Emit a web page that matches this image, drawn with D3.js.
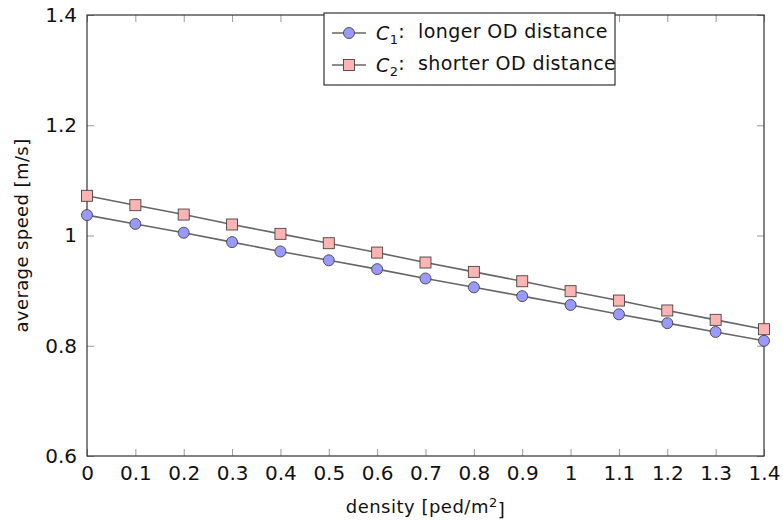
<!DOCTYPE html>
<html>
<head>
<meta charset="utf-8">
<title>average speed vs density</title>
<script src="https://cdn.jsdelivr.net/npm/d3@7"></script>
<style>
	body { margin: 0; background: #fff; }
	text { font-family: "DejaVu Sans", sans-serif; fill: #111; }
</style>
</head>
<body>
<svg id="chart" width="783" height="521"></svg>
<script>

	var density = [0, 0.1, 0.2, 0.3, 0.4, 0.5, 0.6, 0.7, 0.8, 0.9, 1, 1.1, 1.2, 1.3, 1.4];
	var speedC1 = [1.037, 1.021, 1.005, 0.988, 0.971, 0.955, 0.939, 0.922, 0.906, 0.890, 0.874, 0.857, 0.841, 0.825, 0.809];
	var speedC2 = [1.072, 1.055, 1.038, 1.020, 1.003, 0.986, 0.969, 0.951, 0.934, 0.917, 0.899, 0.882, 0.864, 0.847, 0.830];
	var xTicks = [0, 0.1, 0.2, 0.3, 0.4, 0.5, 0.6, 0.7, 0.8, 0.9, 1, 1.1, 1.2, 1.3, 1.4];
	var yTicks = [0.6, 0.8, 1, 1.2, 1.4];

	var svg = d3.select("#chart"),
	    margin = {top: 15, right: 19, bottom: 65, left: 87},
	    width = +svg.attr("width") - margin.left - margin.right,
	    height = +svg.attr("height") - margin.top - margin.bottom,
	    g = svg.append("g").attr("transform", "translate(" + margin.left + "," + margin.top + ")");

	var x = d3.scaleLinear().domain([0, 1.4]).range([0, width]);
	var y = d3.scaleLinear().domain([0.6, 1.4]).range([height, 0]);

	var fmt = function(d) { return d3.format("")(+d.toFixed(1)); };

	// inner ticks on all four sides
	function ticks(axis, tr) {
		var a = g.append("g").attr("transform", tr).call(axis);
		a.select(".domain").remove();
		a.selectAll("line").attr("stroke", "#999").attr("stroke-width", 1);
		return a;
	}
	var bx = ticks(d3.axisBottom(x).tickValues(xTicks).tickSize(-7).tickPadding(10).tickFormat(fmt), "translate(0," + height + ")");
	ticks(d3.axisTop(x).tickValues(xTicks).tickSize(-7).tickFormat(""), "translate(0,0)");
	var ly = ticks(d3.axisLeft(y).tickValues(yTicks).tickSize(-7).tickPadding(10).tickFormat(fmt), "translate(0,0)");
	ticks(d3.axisRight(y).tickValues(yTicks).tickSize(-7).tickFormat(""), "translate(" + width + ",0)");

	bx.selectAll("text").style("font-size", "20px").attr("dy", "0.71em");
	ly.selectAll("text").style("font-size", "20px");

	g.append("rect")
		.attr("width", width).attr("height", height)
		.attr("fill", "none").attr("stroke", "#333").attr("stroke-width", 1.2);

	var line = d3.line()
		.x(function(d, i) { return x(density[i]); })
		.y(function(d) { return y(d); });

	var series = [
		{vals: speedC1, shape: "circle", fill: "#9999ff", sub: "1", label: ":  longer OD distance"},
		{vals: speedC2, shape: "square", fill: "#ffb3b3", sub: "2", label: ":  shorter OD distance"}
	];

	function marker(sel, shape, fill) {
		if (shape == "circle") {
			sel.append("circle").attr("r", 5.5);
		} else {
			sel.append("rect").attr("x", -5.5).attr("y", -5.5).attr("width", 11).attr("height", 11);
		}
		sel.selectAll("circle,rect").attr("fill", fill).attr("stroke", "#444").attr("stroke-width", 0.9);
	}

	series.forEach(function(s) {
		g.append("path")
			.datum(s.vals)
			.attr("fill", "none")
			.attr("stroke", "#666")
			.attr("stroke-width", 1.6)
			.attr("d", line);
		g.selectAll(null)
			.data(s.vals)
			.enter().append("g")
			.attr("transform", function(d, i) { return "translate(" + x(density[i]) + "," + y(d) + ")"; })
			.each(function() { marker(d3.select(this), s.shape, s.fill); });
	});

	// legend
	var lg = svg.append("g").attr("transform", "translate(324,13)");
	lg.append("rect").attr("width", 291).attr("height", 72)
		.attr("fill", "#fff").attr("stroke", "#333").attr("stroke-width", 1.2);
	series.forEach(function(s, i) {
		var row = lg.append("g").attr("transform", "translate(0," + (20 + i * 32) + ")");
		row.append("line").attr("x1", 8).attr("x2", 42).attr("stroke", "#666").attr("stroke-width", 1.6);
		var m = row.append("g").attr("transform", "translate(25,0)");
		marker(m, s.shape, s.fill);
		var t = row.append("text").attr("x", 52).attr("dy", "0.35em")
			.style("font-size", "19px").style("letter-spacing", "0.4px").style("white-space", "pre");
		t.append("tspan").attr("font-style", "italic").text("C");
		t.append("tspan").attr("dy", "0.3em").style("font-size", "13px").text(s.sub);
		t.append("tspan").attr("dy", "-0.3em").text(s.label);
	});

	// axis titles
	var xt = svg.append("text")
		.attr("x", margin.left + width / 2).attr("y", 513)
		.attr("text-anchor", "middle").style("font-size", "18px").style("letter-spacing", "0.5px");
	xt.append("tspan").text("density [ped/m");
	xt.append("tspan").attr("dy", "-0.5em").style("font-size", "13px").text("2");
	xt.append("tspan").attr("dy", "0.5em").text("]");

	svg.append("text")
		.attr("transform", "translate(28," + (margin.top + height / 2) + ") rotate(-90)")
		.attr("text-anchor", "middle").style("font-size", "18px").style("letter-spacing", "0.4px")
		.text("average speed [m/s]");

</script>
</body>
</html>
